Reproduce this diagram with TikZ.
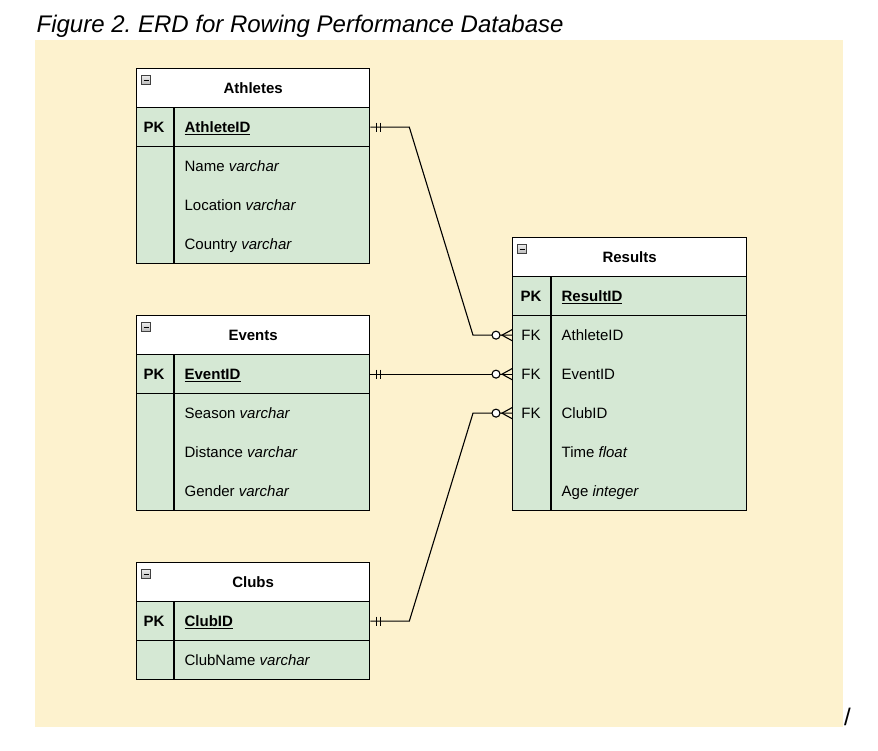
\documentclass[tikz,border=0pt]{standalone}
\usepackage{fontspec}
\setmainfont{Liberation Sans}
\usetikzlibrary{calc}
\frenchspacing
\definecolor{bgy}{HTML}{FDF2CE}
\definecolor{tgreen}{HTML}{D5E8D4}
\newcommand\fsz{\fontsize{15}{18}\selectfont}
\newcommand\tabicon[1]{%
  \draw[top color=gray!15, bottom color=gray!55, draw=gray!50!black, line width=0.7pt] ($(#1.north west)+(5.5,7.5)$) rectangle ++(9,9);
  \draw[line width=1pt] ($(#1.north west)+(7.5,12)$) -- ++(5,0);}
\newcommand\onebar[1]{%
  \draw ($(#1)+(6,-4.5)$) -- ++(0,9);
  \draw ($(#1)+(10,-4.5)$) -- ++(0,9);}
\newcommand\zeromany[1]{%
  \draw ($(#1)+(0,-5.5)$) -- ($(#1)+(-10,0)$) -- ($(#1)+(0,5.5)$);
  \draw[fill=white] ($(#1)+(-16,0)$) circle (4);}
\begin{document}
\begin{tikzpicture}[x=1pt,y=-1pt, line width=1.3pt,
  hdr/.style={draw, fill=white, minimum height=39pt, inner sep=0, anchor=north west, font=\fsz\bfseries},
  pkrow/.style={draw, fill=tgreen, minimum height=39pt, inner sep=0, anchor=north west},
  body/.style={draw, fill=tgreen, inner sep=0, anchor=north west},
  rowbox/.style={minimum height=39pt, inner sep=0, anchor=north west},
  keytxt/.style={anchor=base, inner sep=0, font=\fsz\bfseries},
  fktxt/.style={anchor=base, inner sep=0, font=\fsz},
  fieldtxt/.style={anchor=base west, inner sep=0, font=\fsz},
  conn/.style={line width=1.1pt}]
\useasboundingbox (0,0) rectangle (878,750);
\fill[bgy] (35,40) rectangle (843,727);
\node[anchor=base west, font=\fontsize{24}{28}\selectfont\itshape, inner sep=0] (title) at (36,32) {Figure 2. ERD for Rowing Performance Database};
\node[font=\fontsize{24}{28}\selectfont, inner sep=0] (slash) at (847.5,716.5) {/};

% Athletes
\node[hdr, minimum width=233pt] (ath) at (136,68) {Athletes};
\tabicon{ath}
\node[pkrow, minimum width=233pt] (athpk) at (136,107) {};
\node[body, minimum width=233pt, minimum height=117pt] (athbody) at (136,146) {};
\draw (174,107) -- (174,263);
\node[keytxt] (athpkl) at (154,132.5) {PK};
\node[fieldtxt] (athid) at (184,132.5) {\bfseries\underline{AthleteID}};
\node[fieldtxt] (athname) at (184,171) {Name \textit{varchar}};
\node[fieldtxt] (athloc) at (184,210) {Location \textit{varchar}};
\node[fieldtxt] (athcty) at (184,249) {Country \textit{varchar}};

% Events
\node[hdr, minimum width=233pt] (ev) at (136,315) {Events};
\tabicon{ev}
\node[pkrow, minimum width=233pt] (evpk) at (136,354) {};
\node[body, minimum width=233pt, minimum height=117pt] (evbody) at (136,393) {};
\draw (174,354) -- (174,510);
\node[keytxt] (evpkl) at (154,379.5) {PK};
\node[fieldtxt] (evid) at (184,379.5) {\bfseries\underline{EventID}};
\node[fieldtxt] (evsea) at (184,418) {Season \textit{varchar}};
\node[fieldtxt] (evdis) at (184,457) {Distance \textit{varchar}};
\node[fieldtxt] (evgen) at (184,496) {Gender \textit{varchar}};

% Clubs
\node[hdr, minimum width=233pt] (cl) at (136,562) {Clubs};
\tabicon{cl}
\node[pkrow, minimum width=233pt] (clpk) at (136,601) {};
\node[body, minimum width=233pt, minimum height=39pt] (clbody) at (136,640) {};
\draw (174,601) -- (174,679);
\node[keytxt] (clpkl) at (154,626.5) {PK};
\node[fieldtxt] (clid) at (184,626.5) {\bfseries\underline{ClubID}};
\node[fieldtxt] (clname) at (184,665) {ClubName \textit{varchar}};

% Results
\node[hdr, minimum width=234pt] (res) at (512,237) {Results};
\tabicon{res}
\node[pkrow, minimum width=234pt] (respk) at (512,276) {};
\node[body, minimum width=234pt, minimum height=195pt] (resbody) at (512,315) {};
\draw (551,276) -- (551,510);
\node[rowbox, minimum width=234pt] (rath) at (512,315) {};
\node[rowbox, minimum width=234pt] (revt) at (512,354) {};
\node[rowbox, minimum width=234pt] (rclub) at (512,393) {};
\node[keytxt] (respkl) at (531,301.5) {PK};
\node[fieldtxt] (resid) at (561,301.5) {\bfseries\underline{ResultID}};
\node[fktxt] (fk1) at (531,340) {FK};
\node[fieldtxt] (rathl) at (561,340) {AthleteID};
\node[fktxt] (fk2) at (531,379) {FK};
\node[fieldtxt] (revtl) at (561,379) {EventID};
\node[fktxt] (fk3) at (531,418) {FK};
\node[fieldtxt] (rclubl) at (561,418) {ClubID};
\node[fieldtxt] (rtime) at (561,457) {Time \textit{float}};
\node[fieldtxt] (rage) at (561,496) {Age \textit{integer}};

% Connectors
\begin{scope}[conn]
\draw (athpk.east) -- ++(39,0) -- ($(rath.west)+(-39,0)$) -- (rath.west);
\draw (evpk.east) -- (revt.west);
\draw (clpk.east) -- ++(39,0) -- ($(rclub.west)+(-39,0)$) -- (rclub.west);
\onebar{athpk.east}
\onebar{evpk.east}
\onebar{clpk.east}
\zeromany{rath.west}
\zeromany{revt.west}
\zeromany{rclub.west}
\end{scope}
\end{tikzpicture}
\end{document}
